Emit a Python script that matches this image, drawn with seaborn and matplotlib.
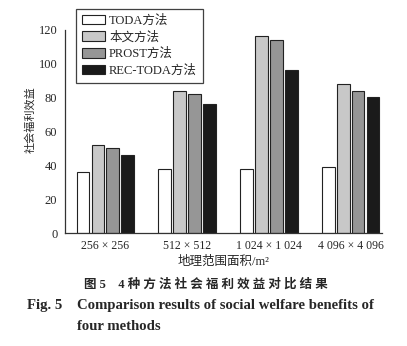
import matplotlib
matplotlib.use("Agg")
import matplotlib.pyplot as plt
from matplotlib.patches import Patch
import seaborn as sns
import pandas as pd

# Data
areas = ["256 × 256", "512 × 512", "1 024 × 1 024", "4 096 × 4 096"]
methods = ["TODA方法", "本文方法", "PROST方法", "REC-TODA方法"]
toda = [36, 38, 38, 39]
ours = [52, 84, 116, 88]
prost = [50, 82, 114, 84]
rec_toda = [46, 76, 96, 80]
colors = ["#ffffff", "#c8c8c8", "#969696", "#1a1a1a"]

rows = []
for m, vals in zip(methods, [toda, ours, prost, rec_toda]):
    for a, v in zip(areas, vals):
        rows.append({"area": a, "method": m, "value": v})
df = pd.DataFrame(rows)

sns.set_theme(style="white")
fam = ["Liberation Serif", "Noto Sans CJK SC", "DejaVu Sans"]
plt.rcParams["font.family"] = fam

fig = plt.figure(figsize=(4.07, 3.46), dpi=100)
ax = fig.add_axes([65 / 407, 1 - 233 / 346, (382 - 65) / 407, (233 - 29.5) / 346])

sns.barplot(data=df, x="area", y="value", hue="method", order=areas,
            hue_order=methods, palette=colors, width=0.73, gap=0.18,
            edgecolor="#222222", linewidth=0.8, ax=ax, legend=False)

ax.set_ylim(0, 120)
ax.set_xlim(-0.49, 3.38)
ax.set_yticks(range(0, 121, 20))
ax.tick_params(axis="y", direction="in", length=3, width=0.8, color="#333333",
               labelsize=9, pad=5.5)
ax.tick_params(axis="x", length=0, labelsize=8.5, pad=5)
for s in ["top", "right"]:
    ax.spines[s].set_visible(False)
for s in ["left", "bottom"]:
    ax.spines[s].set_color("#333333")
    ax.spines[s].set_linewidth(0.9)

ax.set_xlabel("地理范围面积/m²", fontsize=9, labelpad=3)
ax.set_ylabel("社会福利效益", fontsize=8)
ax.yaxis.set_label_coords(-0.092, 0.555)

handles = [Patch(facecolor=c, edgecolor="#222222", linewidth=0.8) for c in colors]
leg = fig.legend(handles, methods, loc="upper left",
                 bbox_to_anchor=(76 / 407, 1 - 9 / 346), fontsize=9,
                 frameon=True, fancybox=False, edgecolor="#111111",
                 handlelength=1.9, handleheight=0.8, labelspacing=0.36,
                 handletextpad=0.3, borderpad=0.45, borderaxespad=0)
leg.get_frame().set_linewidth(0.9)

# Figure caption
cn_title = "图 5    4 " + " ".join("种方法社会福利效益对比结果")
fig.text(206 / 407, 1 - 285 / 346, cn_title,
         ha="center", va="center", fontsize=9, fontweight="bold")
fig.text(27 / 407, 1 - 306 / 346, "Fig. 5", ha="left", va="center",
         fontsize=10.6, fontweight="bold")
fig.text(77 / 407, 1 - 306 / 346,
         "Comparison results of social welfare benefits of",
         ha="left", va="center", fontsize=10.6, fontweight="bold")
fig.text(77 / 407, 1 - 327 / 346, "four methods", ha="left", va="center",
         fontsize=10.6, fontweight="bold")

fig.savefig("out.png", dpi=100)
